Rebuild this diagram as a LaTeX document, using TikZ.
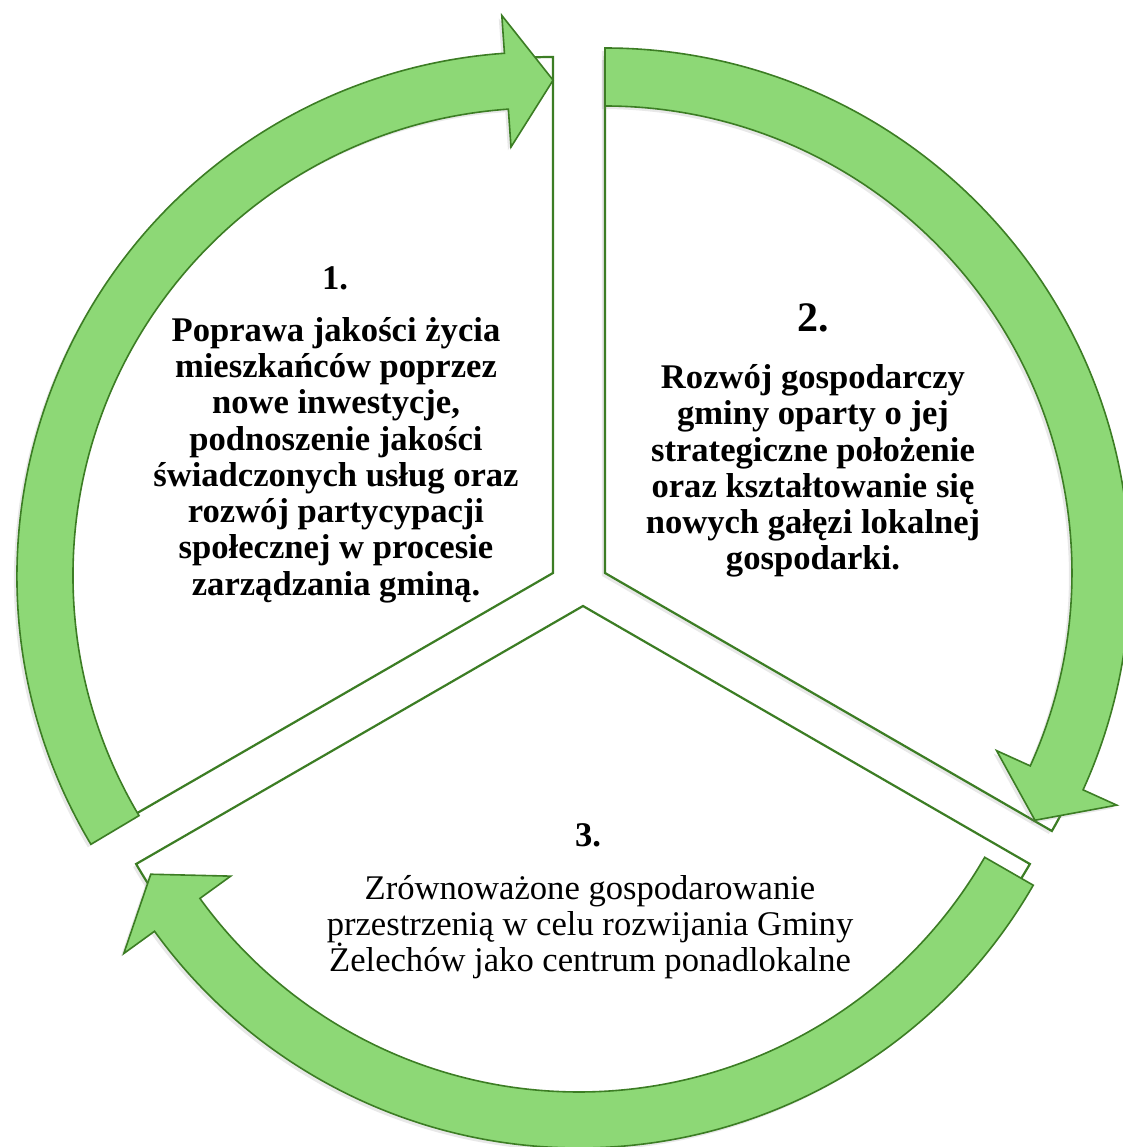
\documentclass[tikz,border=0pt]{standalone}
\usepackage{fontspec}
\setmainfont{Liberation Serif}
\usetikzlibrary{shadows}

\definecolor{leaf}{RGB}{141,216,118}
\definecolor{leafdark}{RGB}{60,125,36}

\begin{document}
\begin{tikzpicture}[x=0.5pt, y=0.5pt,
  sector/.style={draw=leafdark, line width=1.1pt, fill=white,
    drop shadow={opacity=0.18, shadow xshift=-1.5pt, shadow yshift=-1.5pt}},
  band/.style={draw=leafdark, line width=0.8pt, fill=leaf,
    drop shadow={opacity=0.18, shadow xshift=-1.5pt, shadow yshift=-1.5pt}},
  numlabel/.style={inner sep=0pt, font=\fontsize{17.3}{18.15}\selectfont\bfseries},
  goaltext/.style={inner sep=0pt, align=center, font=\fontsize{17.3}{18.15}\selectfont}]

% Fix the page to the size of the picture
\useasboundingbox (-579,-559) rectangle (544,588);

% Define the corners of the three segments
\coordinate (S1) at (-26,15);
\coordinate (S2) at (26,15);
\coordinate (S3) at (4,-18);

% Centres of the three curved arrows
\coordinate (B1) at (-38,12);
\coordinate (B2) at (26,15);
\coordinate (B3) at (0,-36);

% Draw the segments
\draw[sector] (S1) -- ++(90:516) arc[start angle=90, end angle=210, radius=516] -- cycle;
\draw[sector] (S2) -- ++(90:516) arc[start angle=90, end angle=-30, radius=516] -- cycle;
\draw[sector] (S3) -- ++(-30:516) arc[start angle=-30, end angle=-150, radius=516] -- cycle;

% Draw the curved arrows round the segments
\draw[band, shift={(B1)}] (210.8:524) arc[start angle=210.8, end angle=94, radius=524]
  -- (94:562) -- (88.6:496) -- (94:430) -- (94:468)
  arc[start angle=94, end angle=210.8, radius=468] -- cycle;
\draw[band, shift={(B2)}] (90:525) arc[start angle=90, end angle=-24.4, radius=525]
  -- (-24.4:562) -- (-29.9:496) -- (-24.4:430) -- (-24.4:467)
  arc[start angle=-24.4, end angle=90, radius=467] -- cycle;
\draw[band, shift={(B3)}] (-29.9:524) arc[start angle=-29.9, end angle=-144.1, radius=524]
  -- (-144.1:562) -- (-149.7:496) -- (-144.1:430) -- (-144.1:468)
  arc[start angle=-144.1, end angle=-29.9, radius=468] -- cycle;

% Label the segments
\node[numlabel] (num1) at (-244,310) {1.};
\node[goaltext, font=\fontsize{17.3}{18.15}\selectfont\bfseries] (goal1) at (-243,128)
  {Poprawa jakości życia\\ mieszkańców poprzez\\ nowe inwestycje,\\
   podnoszenie jakości\\ świadczonych usług oraz\\ rozwój partycypacji\\
   społecznej w procesie\\ zarządzania gminą.};

\node[numlabel, font=\fontsize{21}{22}\selectfont\bfseries] (num2) at (234,270) {2.};
\node[goaltext, font=\fontsize{17.3}{18.15}\selectfont\bfseries] (goal2) at (234,117)
  {Rozwój gospodarczy\\ gminy oparty o jej\\ strategiczne położenie\\
   oraz kształtowanie się\\ nowych gałęzi lokalnej\\ gospodarki.};

\node[numlabel] (num3) at (9,-247) {3.};
\node[goaltext] (goal3) at (11,-339)
  {Zrównoważone gospodarowanie\\ przestrzenią w celu rozwijania Gminy\\
   Żelechów jako centrum ponadlokalne};

\end{tikzpicture}
\end{document}
